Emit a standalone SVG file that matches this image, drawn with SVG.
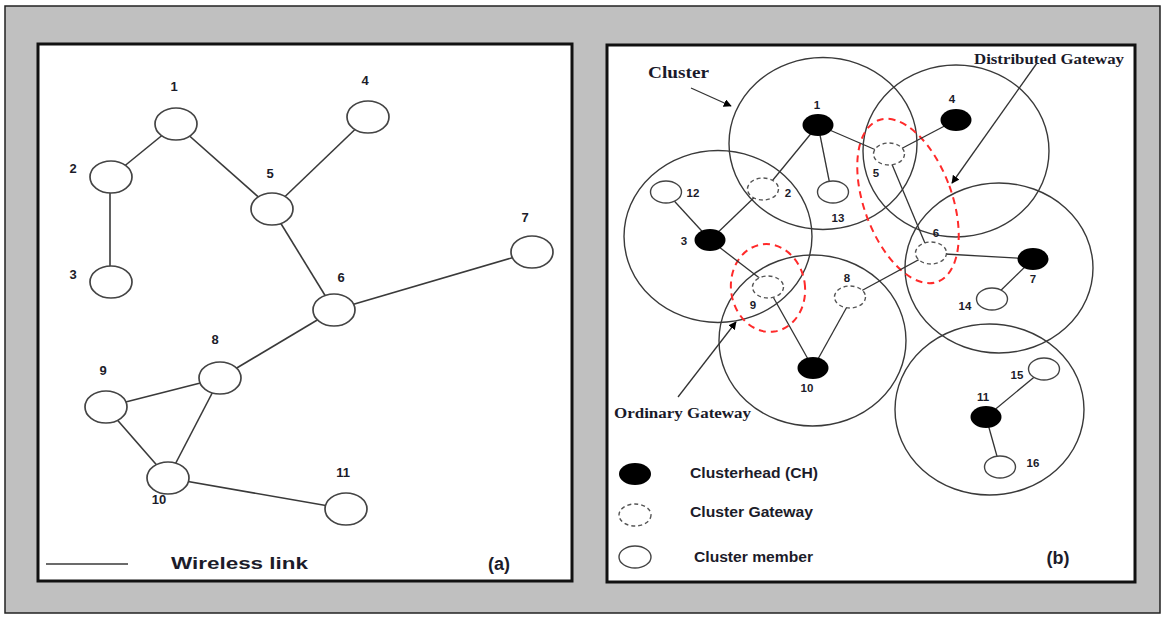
<svg xmlns="http://www.w3.org/2000/svg" width="1164" height="617" viewBox="0 0 1164 617">
<defs>
<style>
.panel{fill:#fff;stroke:#111;stroke-width:3}
.ln{stroke:#3a3a3a;stroke-width:1.6;fill:none}
.lnb{stroke:#333;stroke-width:1.3;fill:none}
.nodeA{fill:#fff;stroke:#444;stroke-width:1.7}
.clu{fill:none;stroke:#3a3a3a;stroke-width:1.4}
.ch{fill:#000}
.gw{fill:#fff;stroke:#555;stroke-width:1.4;stroke-dasharray:4 3}
.mem{fill:#fff;stroke:#444;stroke-width:1.4}
.red{fill:none;stroke:#ff2a2a;stroke-width:2;stroke-dasharray:7 5}
.la{font-family:"Liberation Sans",Arial,sans-serif;font-weight:bold;font-size:13px;fill:#1c1c2a;text-anchor:middle}
.lb{font-family:"Liberation Sans",Arial,sans-serif;font-weight:bold;font-size:11.5px;fill:#1c1c2a;text-anchor:middle}
.ser{font-family:"Liberation Serif","Times New Roman",serif;font-weight:bold;fill:#1a1a2a}
.leg{font-family:"Liberation Sans",Arial,sans-serif;font-weight:bold;font-size:14px;fill:#1c1c2a}
</style>
<marker id="ah" viewBox="0 0 10 10" refX="9" refY="5" markerWidth="8" markerHeight="8" markerUnits="userSpaceOnUse" orient="auto"><path d="M0,0 L10,5 L0,10 Z" fill="#000"/></marker>
</defs>
<rect x="5" y="6" width="1155" height="607" fill="#c0c0c0" stroke="#222" stroke-width="1.5"/>
<rect class="panel" x="38" y="44" width="534" height="537"/>
<rect class="panel" x="607" y="45" width="528" height="537"/>

<g id="connectors-a">
<line class="ln" x1="176" y1="124" x2="111" y2="177"/>
<line class="ln" x1="176" y1="124" x2="272" y2="209"/>
<line class="ln" x1="368" y1="117" x2="272" y2="209"/>
<line class="ln" x1="110" y1="177" x2="110" y2="282"/>
<line class="ln" x1="272" y1="209" x2="334" y2="310"/>
<line class="ln" x1="334" y1="310" x2="532" y2="252"/>
<line class="ln" x1="334" y1="310" x2="220" y2="378"/>
<line class="ln" x1="220" y1="378" x2="106" y2="407"/>
<line class="ln" x1="220" y1="378" x2="168" y2="478"/>
<line class="ln" x1="106" y1="407" x2="168" y2="478"/>
<line class="ln" x1="168" y1="478" x2="346" y2="509"/>
</g>
<g id="a-node1"><ellipse class="nodeA" cx="176" cy="124" rx="21" ry="16"/><text class="la" x="174" y="91">1</text></g>
<g id="a-node2"><ellipse class="nodeA" cx="111" cy="177" rx="21" ry="16"/><text class="la" x="73" y="173">2</text></g>
<g id="a-node3"><ellipse class="nodeA" cx="111" cy="282" rx="21" ry="16"/><text class="la" x="73" y="279">3</text></g>
<g id="a-node4"><ellipse class="nodeA" cx="368" cy="117" rx="21" ry="16"/><text class="la" x="365" y="85">4</text></g>
<g id="a-node5"><ellipse class="nodeA" cx="272" cy="209" rx="21" ry="16"/><text class="la" x="270" y="178">5</text></g>
<g id="a-node6"><ellipse class="nodeA" cx="334" cy="310" rx="21" ry="16"/><text class="la" x="341" y="282">6</text></g>
<g id="a-node7"><ellipse class="nodeA" cx="532" cy="252" rx="21" ry="16"/><text class="la" x="525" y="222">7</text></g>
<g id="a-node8"><ellipse class="nodeA" cx="220" cy="378" rx="21" ry="16"/><text class="la" x="215" y="344">8</text></g>
<g id="a-node9"><ellipse class="nodeA" cx="106" cy="407" rx="21" ry="16"/><text class="la" x="103" y="375">9</text></g>
<g id="a-node10"><ellipse class="nodeA" cx="168" cy="478" rx="21" ry="16"/><text class="la" x="159" y="504">10</text></g>
<g id="a-node11"><ellipse class="nodeA" cx="346" cy="509" rx="21" ry="16"/><text class="la" x="343" y="477">11</text></g>
<g id="a-legend">
<line class="ln" x1="46" y1="564" x2="128" y2="564"/>
<text x="171" y="569" font-family="'Liberation Sans',Arial,sans-serif" font-weight="bold" font-size="16" fill="#1c1c2a" textLength="137" lengthAdjust="spacingAndGlyphs">Wireless link</text>
<text x="499" y="570" font-family="'Liberation Sans',Arial,sans-serif" font-weight="bold" font-size="18" fill="#1c1c2a" text-anchor="middle">(a)</text>
</g>

<g id="clusters">
<ellipse class="clu" cx="823" cy="143.5" rx="94" ry="86"/>
<ellipse class="clu" cx="718" cy="236.5" rx="94" ry="86"/>
<ellipse class="clu" cx="956" cy="151" rx="93" ry="86"/>
<ellipse class="clu" cx="999" cy="268" rx="94" ry="85"/>
<ellipse class="clu" cx="812.5" cy="340.5" rx="93.5" ry="85.5"/>
<ellipse class="clu" cx="989.5" cy="409.5" rx="94.5" ry="85.5"/>
</g>
<g id="gateway-regions">
<ellipse class="red" cx="908" cy="201" rx="44" ry="86" transform="rotate(-20 908 201)"/>
<ellipse class="red" cx="768" cy="288" rx="37" ry="44" transform="rotate(-8 768 288)"/>
</g>
<g id="connectors-b">
<line class="lnb" x1="818" y1="125" x2="768" y2="186"/>
<line class="lnb" x1="818" y1="125" x2="830" y2="185"/>
<line class="lnb" x1="818" y1="125" x2="876" y2="150"/>
<line class="lnb" x1="763" y1="189" x2="710" y2="240"/>
<line class="lnb" x1="666" y1="192" x2="710" y2="240"/>
<line class="lnb" x1="710" y1="240" x2="762" y2="280"/>
<line class="lnb" x1="772" y1="295" x2="813" y2="368"/>
<line class="lnb" x1="848" y1="305" x2="813" y2="368"/>
<line class="lnb" x1="850" y1="297" x2="931" y2="253"/>
<line class="lnb" x1="956" y1="120" x2="895" y2="152"/>
<line class="lnb" x1="891" y1="162" x2="927" y2="248"/>
<line class="lnb" x1="945" y1="254" x2="1033" y2="259"/>
<line class="lnb" x1="1033" y1="259" x2="992" y2="299"/>
<line class="lnb" x1="986" y1="417" x2="1044" y2="369"/>
<line class="lnb" x1="986" y1="417" x2="1000" y2="467"/>
</g>
<g id="b-node1"><ellipse class="ch" cx="818" cy="125" rx="15.5" ry="11"/><text class="lb" x="817" y="109">1</text></g>
<g id="b-node2"><ellipse class="gw" cx="763" cy="189" rx="15.5" ry="11"/><text class="lb" x="788" y="197">2</text></g>
<g id="b-node3"><ellipse class="ch" cx="710" cy="240" rx="15.5" ry="11"/><text class="lb" x="684" y="245">3</text></g>
<g id="b-node4"><ellipse class="ch" cx="956" cy="120" rx="15.5" ry="11"/><text class="lb" x="952" y="103">4</text></g>
<g id="b-node5"><ellipse class="gw" cx="889" cy="154" rx="15.5" ry="11"/><text class="lb" x="876" y="177">5</text></g>
<g id="b-node6"><ellipse class="gw" cx="931" cy="253" rx="15.5" ry="11"/><text class="lb" x="936" y="237">6</text></g>
<g id="b-node7"><ellipse class="ch" cx="1033" cy="259" rx="15.5" ry="11"/><text class="lb" x="1033" y="283">7</text></g>
<g id="b-node8"><ellipse class="gw" cx="850" cy="297" rx="15.5" ry="11"/><text class="lb" x="847" y="282">8</text></g>
<g id="b-node9"><ellipse class="gw" cx="768" cy="287" rx="15.5" ry="11"/><text class="lb" x="753" y="309">9</text></g>
<g id="b-node10"><ellipse class="ch" cx="813" cy="368" rx="15.5" ry="11"/><text class="lb" x="807" y="392">10</text></g>
<g id="b-node11"><ellipse class="ch" cx="986" cy="417" rx="15.5" ry="11"/><text class="lb" x="983" y="401">11</text></g>
<g id="b-node12"><ellipse class="mem" cx="666" cy="192" rx="15.5" ry="11"/><text class="lb" x="693" y="197">12</text></g>
<g id="b-node13"><ellipse class="mem" cx="833" cy="192" rx="15.5" ry="11"/><text class="lb" x="838" y="222">13</text></g>
<g id="b-node14"><ellipse class="mem" cx="992" cy="299" rx="15.5" ry="11"/><text class="lb" x="965" y="310">14</text></g>
<g id="b-node15"><ellipse class="mem" cx="1044" cy="369" rx="15.5" ry="11"/><text class="lb" x="1017" y="379">15</text></g>
<g id="b-node16"><ellipse class="mem" cx="1000" cy="467" rx="15.5" ry="11"/><text class="lb" x="1033" y="467">16</text></g>

<g id="annotations">
<text class="ser" x="648" y="78" font-size="17" textLength="61" lengthAdjust="spacingAndGlyphs">Cluster</text>
<line class="lnb" x1="691" y1="88" x2="731" y2="106" marker-end="url(#ah)"/>
<text class="ser" x="974" y="64" font-size="14" textLength="150" lengthAdjust="spacingAndGlyphs">Distributed Gateway</text>
<line class="lnb" x1="1037" y1="63" x2="952" y2="183" marker-end="url(#ah)"/>
<text class="ser" x="614" y="418" font-size="14" textLength="137" lengthAdjust="spacingAndGlyphs">Ordinary Gateway</text>
<line class="lnb" x1="678" y1="397" x2="736" y2="322" marker-end="url(#ah)"/>
<text x="1058" y="564" font-family="'Liberation Sans',Arial,sans-serif" font-weight="bold" font-size="18" fill="#1c1c2a" text-anchor="middle">(b)</text>
</g>
<g id="b-legend">
<ellipse class="ch" cx="635" cy="474" rx="16" ry="11"/>
<text class="leg" x="690" y="478" textLength="128" lengthAdjust="spacingAndGlyphs">Clusterhead (CH)</text>
<ellipse class="gw" cx="635" cy="515" rx="16" ry="11"/>
<text class="leg" x="690" y="517" textLength="123" lengthAdjust="spacingAndGlyphs">Cluster Gateway</text>
<ellipse class="mem" cx="635" cy="557" rx="16" ry="11"/>
<text class="leg" x="694" y="562" textLength="119" lengthAdjust="spacingAndGlyphs">Cluster member</text>
</g>
</svg>
